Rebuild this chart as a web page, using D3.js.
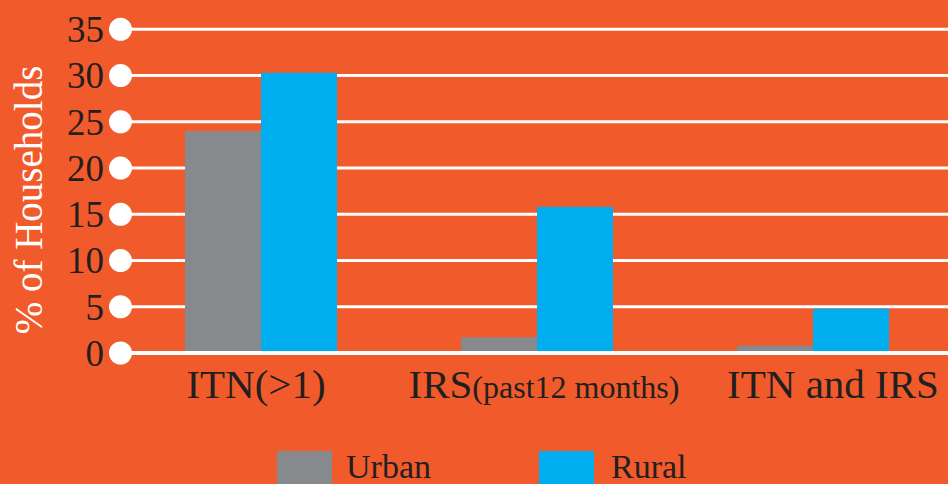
<!DOCTYPE html>
<html><head><meta charset="utf-8">
<script src="https://cdn.jsdelivr.net/npm/d3@7"></script>
<style>html,body{margin:0;padding:0;background:#F15A2B;overflow:hidden}</style>
</head><body>
<svg id="c" width="948" height="484"></svg>
<script>
const categories = ["ITN(>1)", "IRS(past12 months)", "ITN and IRS"];
const seriesNames = ["Urban", "Rural"];
const urban = [24.0, 1.7, 0.8];
const rural = [30.3, 15.8, 4.8];
const yTicks = [0, 5, 10, 15, 20, 25, 30, 35];
const colors = ["#878A8C", "#00AEEF"];

const svg = d3.select("#c");
const W = 948, H = 484;
const FONT = "Liberation Serif, Times New Roman, serif";
svg.append("rect").attr("width", W).attr("height", H).attr("fill", "#F15A2B");

const y = d3.scaleLinear().domain([0, 35]).range([353, 29.3]);
const x0 = d3.scaleBand().domain(categories).range([123, 951]).paddingInner(0.449).paddingOuter(0.2245);
const x1 = d3.scaleBand().domain(seriesNames).range([0, x0.bandwidth()]);

// grid lines (behind bars)
svg.append("g").selectAll("line").data(yTicks.filter(d => d !== 0)).join("line")
  .attr("x1", 120).attr("x2", W)
  .attr("y1", d => y(d)).attr("y2", d => y(d))
  .attr("stroke", "#fff").attr("stroke-width", 3);

// bars
const data = categories.map((c, i) => ({c, vals: [urban[i], rural[i]]}));
const g = svg.append("g").selectAll("g").data(data).join("g")
  .attr("transform", d => `translate(${x0(d.c)},0)`);
g.selectAll("rect").data(d => d.vals.map((v, j) => ({v, s: seriesNames[j], j}))).join("rect")
  .attr("x", d => x1(d.s)).attr("width", x1.bandwidth())
  .attr("y", d => y(d.v)).attr("height", d => y(0) - y(d.v))
  .attr("fill", d => colors[d.j]);

// zero line
svg.append("line").attr("x1", 120).attr("x2", W)
  .attr("y1", y(0)).attr("y2", y(0))
  .attr("stroke", "#fff").attr("stroke-width", 4);

// tick circles and labels
const tg = svg.append("g");
tg.selectAll("circle").data(yTicks).join("circle")
  .attr("cx", 120.5).attr("cy", d => y(d)).attr("r", 11.5).attr("fill", "#fff");
tg.selectAll("text").data(yTicks).join("text")
  .attr("x", 104).attr("y", d => y(d)).attr("dy", "0.35em")
  .attr("text-anchor", "end")
  .attr("font-family", FONT).attr("font-size", 37)
  .attr("fill", "#231F20").text(d => d);

// y title
svg.append("text")
  .attr("transform", "translate(42,200) rotate(-90)")
  .attr("text-anchor", "middle")
  .attr("font-family", FONT).attr("font-size", 39)
  .attr("fill", "#fff").text("% of Households");

// x labels
const xl = svg.append("g").selectAll("text").data(categories).join("text")
  .attr("x", d => x0(d) + x0.bandwidth() / 2 + (d === "ITN and IRS" ? 20 : (d === "ITN(>1)" ? -5 : 7)))
  .attr("y", 398).attr("text-anchor", "middle")
  .attr("font-family", FONT).attr("font-size", 41)
  .attr("fill", "#231F20");
xl.each(function(d) {
  const t = d3.select(this);
  const m = d.match(/^(\w+)(\(past.*\))$/);
  if (m) {
    t.append("tspan").text(m[1]);
    t.append("tspan").attr("font-size", 32).text(m[2]);
  } else t.text(d);
});

// legend
const lg = svg.append("g").selectAll("g").data(seriesNames).join("g")
  .attr("transform", (d, i) => `translate(${277 + i * 262},451)`);
lg.append("rect").attr("width", 55).attr("height", 40).attr("fill", (d, i) => colors[i]);
lg.append("text").attr("x", (d, i) => 69 + i * 3).attr("y", 27)
  .attr("font-family", FONT).attr("font-size", 34)
  .attr("fill", "#231F20").text(d => d);
</script>
</body></html>
